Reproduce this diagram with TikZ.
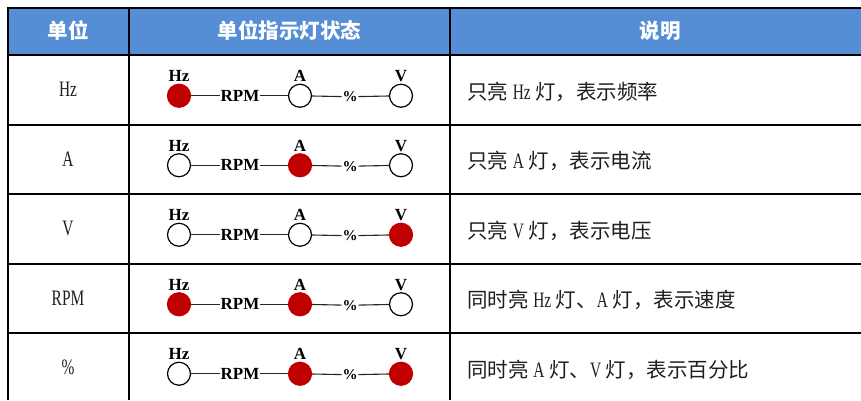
\documentclass[tikz,border=0pt]{standalone}
\usepackage{fontspec}
\setmainfont{Liberation Serif}
\newfontfamily\cjk{Noto Sans CJK SC}
\newfontfamily\narrowfont[FakeStretch=0.7]{Liberation Serif}
\definecolor{hdr}{RGB}{85,142,213}
\definecolor{lampred}{RGB}{192,0,0}
\definecolor{txt}{RGB}{30,30,30}
\newcommand\lat[1]{{\narrowfont\fontsize{22}{24}\selectfont #1}}
\tikzset{
  tbl/.style={line width=2pt,black},
  hdrtext/.style={text=white,font=\cjk\bfseries\fontsize{20.5}{24}\selectfont,inner sep=0pt},
  unittext/.style={text=txt,font=\narrowfont\fontsize{22}{24}\selectfont,inner sep=0pt},
  desctext/.style={text=txt,font=\cjk\fontsize{20.5}{24}\selectfont,inner sep=0pt,anchor=west},
  lampon/.style={circle,minimum size=23pt,inner sep=0pt,fill=lampred,draw=lampred,line width=1.2pt},
  lampoff/.style={circle,minimum size=23pt,inner sep=0pt,fill=white,draw=black,line width=1.2pt},
  lbl/.style={font=\bfseries\fontsize{17}{19}\selectfont,inner sep=0.6pt,text=black},
  toplbl/.style={lbl,anchor=base},
  pct/.style={font=\bfseries\fontsize{15}{17}\selectfont,inner sep=0.6pt,text=black},
  wire/.style={line width=1.1pt,black!85}
}
\newcommand\lamprow[6]{%
  \node[lamp#3] (hz#1) at (179,{#2+6}) {};
  \node[lamp#4] (a#1) at (300,{#2+6}) {};
  \node[lamp#5] (v#1) at (401,{#2+6}) {};
  \node[toplbl] (lhz#1) at (179,{#2-8}) {Hz};
  \node[toplbl] (la#1) at (300,{#2-8}) {A};
  \node[toplbl] (lv#1) at (401,{#2-8}) {V};
  \node[lbl] (rpm#1) at (240,{#2+6}) {RPM};
  \node[pct] (pc#1) at (350,{#2+7}) {\%};
  \draw[wire] (hz#1) -- (rpm#1);
  \draw[wire] (rpm#1) -- (a#1);
  \draw[wire] (a#1) -- (pc#1);
  \draw[wire] (pc#1) -- (v#1);
  \node[unittext] (u#1) at (68,#2) {#6};
}
\begin{document}
\begin{tikzpicture}[x=1pt,y=-1pt]
\useasboundingbox (0,0) rectangle (861,400);
\fill[hdr] (7.5,8) rectangle (861,55);
% header texts
\node[hdrtext] (hA) at (68,31) {单位};
\node[hdrtext] (hB) at (289.5,31) {单位指示灯状态};
\node[hdrtext] (hC) at (660,31) {说明};
% rows
\lamprow{1}{89.75}{on}{off}{off}{Hz}
\lamprow{2}{159.25}{off}{on}{off}{A}
\lamprow{3}{228.75}{off}{off}{on}{V}
\lamprow{4}{298.25}{on}{on}{off}{RPM}
\lamprow{5}{367.75}{off}{on}{on}{\%}
\node[desctext] (d1) at (467,91.75) {只亮\ \lat{Hz}\ 灯，表示频率};
\node[desctext] (d2) at (467,161.25) {只亮\ \lat{A}\ 灯，表示电流};
\node[desctext] (d3) at (467,230.75) {只亮\ \lat{V}\ 灯，表示电压};
\node[desctext] (d4) at (467,300.25) {同时亮\ \lat{Hz}\ 灯、\lat{A}\ 灯，表示速度};
\node[desctext] (d5) at (467,369.75) {同时亮\ \lat{A}\ 灯、\lat{V}\ 灯，表示百分比};
% grid
\draw[tbl] (6.5,8) -- (861,8);
\draw[tbl] (6.5,55) -- (861,55);
\draw[tbl] (6.5,124.5) -- (861,124.5);
\draw[tbl] (6.5,194) -- (861,194);
\draw[tbl] (6.5,263.5) -- (861,263.5);
\draw[tbl] (6.5,333) -- (861,333);
\draw[tbl] (7.5,7) -- (7.5,400);
\draw[tbl] (129,7) -- (129,400);
\draw[tbl] (450,7) -- (450,400);
\end{tikzpicture}
\end{document}
